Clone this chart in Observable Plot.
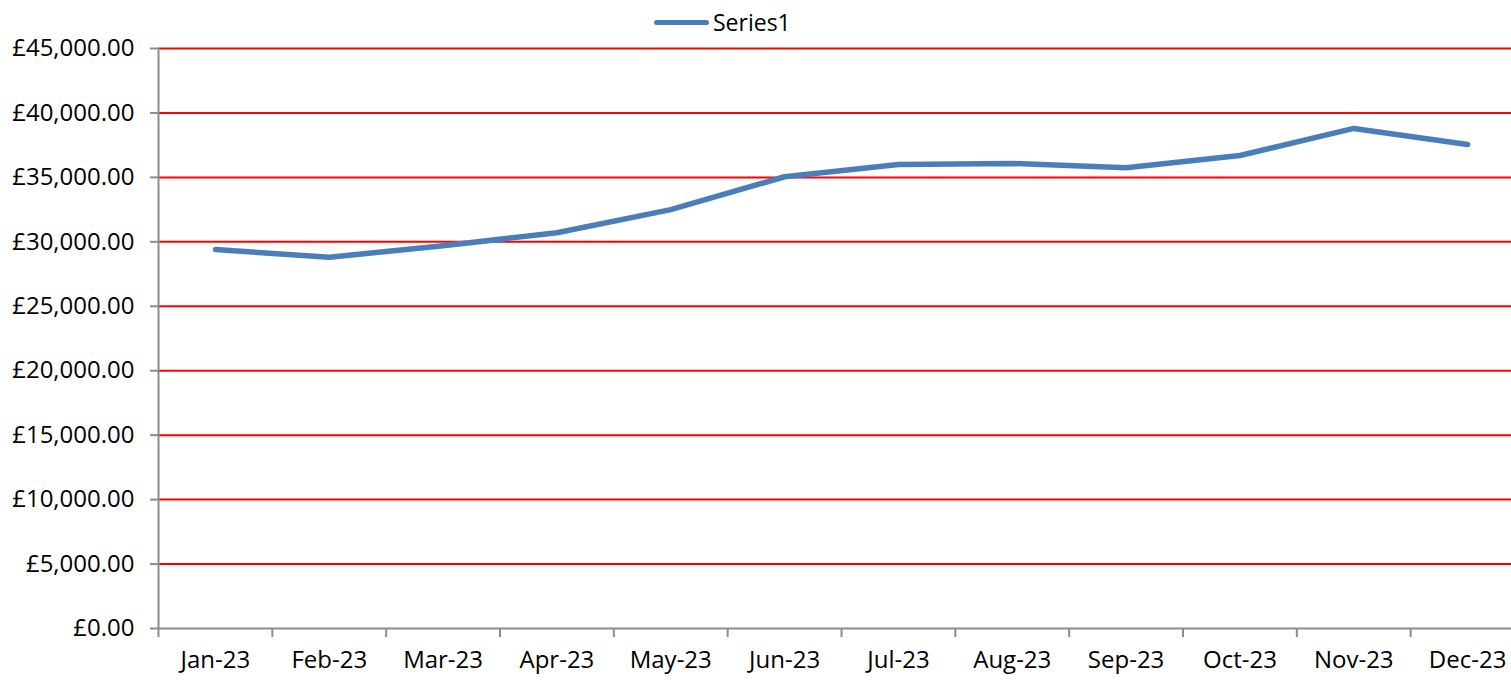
<!DOCTYPE html>
<html>
<head>
<meta charset="utf-8">
<script src="https://cdn.jsdelivr.net/npm/d3@7"></script>
<script src="https://cdn.jsdelivr.net/npm/@observablehq/plot@0.6"></script>
<style>
  html, body { margin: 0; padding: 0; background: #fff; }
  body { width: 1511px; height: 680px; overflow: hidden; font-family: "Open Sans", sans-serif; position: relative; }
  #legend { position: absolute; left: 0; top: 0; width: 1511px; height: 40px; z-index: 2; }
  #legend .sw { position: absolute; left: 654px; top: 20px; width: 55px; height: 5px; border-radius: 3px; background: #4a7ebb; }
  #legend .lb { position: absolute; left: 713px; top: 7px; font-size: 23px; line-height: 30px; color: #000; }
  #chart svg { display: block; max-width: none !important; }
</style>
</head>
<body>
<div id="legend"><div class="sw"></div><div class="lb">Series1</div></div>
<div id="chart"></div>
<script>
const months = ["Jan-23","Feb-23","Mar-23","Apr-23","May-23","Jun-23","Jul-23","Aug-23","Sep-23","Oct-23","Nov-23","Dec-23"];
const series1 = [29400, 28800, 29700, 30700, 32500, 35050, 36000, 36080, 35750, 36700, 38800, 37550];
const yTicks = [0, 5000, 10000, 15000, 20000, 25000, 30000, 35000, 40000, 45000];

const data = months.map((m, i) => ({i, m, v: series1[i]}));
const boundaries = months.map((m, i) => i - 0.5);
const centers = months.map((m, i) => i);
const fmt = d => "£" + d3.format(",.2f")(d);

const chart = Plot.plot({
  width: 1524,
  height: 680,
  marginTop: 48,
  marginBottom: 52,
  marginLeft: 158,
  marginRight: 0,
  style: { fontFamily: "Open Sans, sans-serif", fontSize: "24px", color: "#000", background: "#fff", maxWidth: "none" },
  x: { type: "linear", domain: [-0.5, 11.5] },
  y: { domain: [0, 45000] },
  marks: [
    Plot.gridY(yTicks.filter(d => d > 0), { stroke: "#ff0000", strokeOpacity: 1, strokeWidth: 2 }),
    Plot.ruleX([-0.5], { stroke: "#8c8c8c", strokeWidth: 2 }),
    Plot.ruleY([0], { stroke: "#8c8c8c", strokeWidth: 2 }),
    Plot.axisY({ ticks: yTicks, tickFormat: fmt, tickSize: 8, tickPadding: 16, stroke: "#8c8c8c", strokeWidth: 2, fill: "#000", label: null }),
    Plot.axisX({ ticks: boundaries, tickFormat: () => "", tickSize: 9, stroke: "#8c8c8c", strokeWidth: 2, label: null }),
    Plot.axisX({ ticks: centers, tickFormat: i => months[i], tickSize: 0, tickPadding: 22, fill: "#000", label: null }),
    Plot.line(data, { x: "i", y: "v", stroke: "#4a7ebb", strokeWidth: 5.5, strokeLinecap: "round", strokeLinejoin: "round" })
  ]
});
document.getElementById("chart").appendChild(chart);
</script>
</body>
</html>
